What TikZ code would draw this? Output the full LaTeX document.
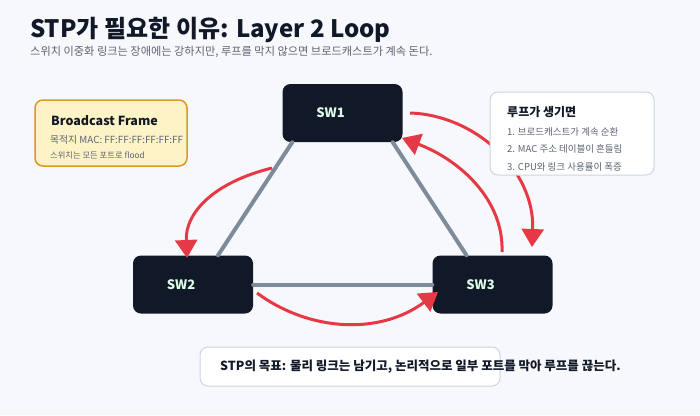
\documentclass[tikz,border=0pt]{standalone}
\usepackage{fontspec}
\setmainfont{Noto Sans CJK KR}
\usetikzlibrary{arrows.meta}

\definecolor{bgcol}{HTML}{F7F8FC}
\definecolor{ink}{HTML}{111827}
\definecolor{muted}{HTML}{5B6473}
\definecolor{swfill}{HTML}{111827}
\definecolor{swtext}{HTML}{DCFCE7}
\definecolor{linkgray}{HTML}{7E8B9A}
\definecolor{loopred}{HTML}{E63946}
\definecolor{notefill}{HTML}{FEF3C7}
\definecolor{notedraw}{HTML}{D99A1E}
\definecolor{cardline}{HTML}{CBD5E1}

\tikzset{
  switch/.style={rectangle, rounded corners=8pt, fill=swfill, minimum width=120pt, minimum height=58pt, inner sep=0pt},
  swlabel/.style={text=swtext, font=\bfseries\fontsize{13}{15}\selectfont, inner sep=0pt},
  link/.style={draw=linkgray, line width=4pt, line cap=round},
  loop/.style={draw=loopred, line width=3pt, -{Triangle[length=18pt,width=22pt]}},
  card/.style={rectangle, rounded corners=8pt, fill=white, draw=cardline, line width=1pt, inner sep=0pt},
  txt/.style={anchor=base west, inner sep=0pt}
}

\begin{document}
\begin{tikzpicture}[x=1pt, y=-1pt]
  \useasboundingbox[fill=bgcol] (0,0) rectangle (700,415);

  % title
  \node[txt, text=ink, font=\bfseries\fontsize{24}{27}\selectfont] (title) at (30,37) {STP가 필요한 이유: Layer 2 Loop};
  \node[txt, text=muted, font=\fontsize{11.2}{13}\selectfont] (subtitle) at (30,55) {스위치 이중화 링크는 장애에는 강하지만, 루프를 막지 않으면 브로드캐스트가 계속 돈다.};

  % broadcast frame note
  \node[rectangle, rounded corners=8pt, fill=notefill, draw=notedraw, line width=1.5pt, minimum width=152pt, minimum height=66pt] (frame) at (111,133) {};
  \node[txt, text=ink, font=\bfseries\fontsize{12.5}{15}\selectfont] (frametitle) at (51,125) {Broadcast Frame};
  \node[txt, text=muted, font=\fontsize{9.8}{12}\selectfont] (framemac) at (50,143) {목적지 MAC: FF:FF:FF:FF:FF:FF};
  \node[txt, text=muted, font=\fontsize{8.3}{10}\selectfont] (frameflood) at (50,158) {스위치는 모든 포트로 flood};

  % switches
  \node[switch] (sw1) at (342.5,113) {};
  \node[switch] (sw2) at (193,284.5) {};
  \node[switch] (sw3) at (492.5,284.5) {};
  \node[swlabel] at ([xshift=-12pt]sw1.center) {SW1};
  \node[swlabel] at ([xshift=-12pt]sw2.center) {SW2};
  \node[swlabel] at ([xshift=-12pt]sw3.center) {SW3};

  % physical links
  \path[link] ([xshift=10pt]sw1.south west) -- ([xshift=25pt]sw2.north);
  \path[link] ([xshift=-10pt]sw1.south east) -- ([xshift=-26pt]sw3.north);
  \path[link] (sw2.east) -- (sw3.west);

  % broadcast loop
  \coordinate (a1) at (272,168);
  \coordinate (a2) at (187,258);
  \coordinate (b1) at (257,293);
  \coordinate (b2) at (438,292);
  \coordinate (c1) at (410,113);
  \coordinate (c2) at (532,247);
  \coordinate (d1) at (502,252);
  \coordinate (d2) at (402,138);
  \draw[loop] (a1) .. controls (215,182) and (185,212) .. (a2);
  \draw[loop] (b1) .. controls (310,332) and (380,335) .. (b2);
  \draw[loop] (c1) .. controls (475,115) and (535,170) .. (c2);
  \draw[loop] (d1) .. controls (504,200) and (460,160) .. (d2);

  % loop effects
  \node[card, minimum width=164pt, minimum height=83pt] (effects) at (572,133.5) {};
  \node[txt, text=ink, font=\bfseries\fontsize{12}{14}\selectfont] (effecttitle) at (507,116) {루프가 생기면};
  \node[txt, text=muted, font=\fontsize{9.5}{11}\selectfont] (effect1) at (507,135) {1. 브로드캐스트가 계속 순환};
  \node[txt, text=muted, font=\fontsize{9.5}{11}\selectfont] (effect2) at (507,152) {2. MAC 주소 테이블이 흔들림};
  \node[txt, text=muted, font=\fontsize{9.5}{11}\selectfont] (effect3) at (507,170) {3. CPU와 링크 사용률이 폭증};

  % goal
  \node[card, minimum width=300pt, minimum height=39pt] (goal) at (350,366.5) {};
  \node[txt, text=ink, font=\bfseries\fontsize{12.5}{15}\selectfont] (goaltext) at (220,370) {STP의 목표: 물리 링크는 남기고, 논리적으로 일부 포트를 막아 루프를 끊는다.};
\end{tikzpicture}
\end{document}
